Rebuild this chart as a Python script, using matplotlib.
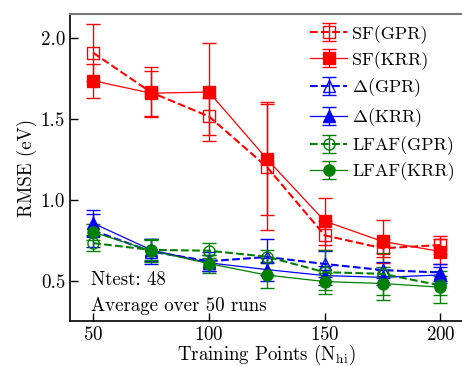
import matplotlib
matplotlib.use("Agg")
import matplotlib.pyplot as plt

plt.rcParams["font.family"] = ["cmr10", "DejaVu Serif"]
plt.rcParams["mathtext.fontset"] = "cm"
plt.rcParams["axes.unicode_minus"] = False
plt.rcParams["axes.formatter.use_mathtext"] = True

FS = 13.6
LEG_FS = 13

# Training set sizes
n_train = [50, 75, 100, 125, 150, 175, 200]

# RMSE (eV) and standard deviations over runs
sf_gpr = [1.91, 1.665, 1.516, 1.204, 0.78, 0.70, 0.72]
sf_gpr_err = [0.176, 0.155, 0.115, 0.39, 0.09, 0.055, 0.053]
sf_krr = [1.737, 1.66, 1.667, 1.253, 0.868, 0.742, 0.68]
sf_krr_err = [0.104, 0.14, 0.305, 0.35, 0.145, 0.134, 0.077]

delta_gpr = [0.81, 0.68, 0.62, 0.646, 0.603, 0.565, 0.55]
delta_gpr_err = [0.10, 0.08, 0.06, 0.11, 0.08, 0.05, 0.05]
delta_krr = [0.855, 0.69, 0.61, 0.568, 0.531, 0.52, 0.535]
delta_krr_err = [0.08, 0.07, 0.05, 0.07, 0.06, 0.045, 0.05]

lfaf_gpr = [0.732, 0.69, 0.685, 0.648, 0.552, 0.542, 0.47]
lfaf_gpr_err = [0.05, 0.06, 0.045, 0.04, 0.135, 0.13, 0.06]
lfaf_krr = [0.80, 0.685, 0.605, 0.534, 0.494, 0.482, 0.459]
lfaf_krr_err = [0.05, 0.07, 0.055, 0.08, 0.055, 0.10, 0.10]

fig = plt.figure(figsize=(4.62, 3.66), dpi=100)
ax = fig.add_axes([0.1515, 0.123, 0.852, 0.8387])

common = dict(capsize=5, elinewidth=1.0, capthick=1.0, markersize=8)

ax.errorbar(n_train, sf_gpr, yerr=sf_gpr_err, color="red", ls="--", lw=1.5,
            marker="s", mfc="none", mew=1.0, label="SF(GPR)", **common)
ax.errorbar(n_train, sf_krr, yerr=sf_krr_err, color="red", ls="-", lw=0.9,
            marker="s", label="SF(KRR)", **common)
ax.errorbar(n_train, delta_gpr, yerr=delta_gpr_err, color="blue", ls="--", lw=1.5,
            marker="^", mfc="none", mew=1.0, label=r"$\Delta$(GPR)", **common)
ax.errorbar(n_train, delta_krr, yerr=delta_krr_err, color="blue", ls="-", lw=0.9,
            marker="^", label=r"$\Delta$(KRR)", **common)
ax.errorbar(n_train, lfaf_gpr, yerr=lfaf_gpr_err, color="green", ls="--", lw=1.5,
            marker="o", mfc="none", mew=1.0, label="LFAF(GPR)", **common)
ax.errorbar(n_train, lfaf_krr, yerr=lfaf_krr_err, color="green", ls="-", lw=0.9,
            marker="o", label="LFAF(KRR)", **common)

ax.set_xlim(40, 210)
ax.set_ylim(0.25, 2.15)
ax.set_xticks([50, 100, 150, 200])
ax.set_yticks([0.5, 1.0, 1.5, 2.0])
ax.set_yticklabels(["0.5", "1.0", "1.5", "2.0"])
ax.tick_params(direction="in", length=6, width=1.0, labelsize=FS)

for side in ("left", "bottom"):
    ax.spines[side].set_linewidth(1.2)
ax.spines["top"].set_color("#777777")
ax.spines["top"].set_linewidth(1.5)

ax.set_xlabel(r"Training Points (N$_{\mathrm{hi}}$)", fontsize=FS, labelpad=-0.6)
ax.set_ylabel("RMSE (eV)", fontsize=FS, labelpad=3)

ax.text(0.053, 0.135, "Ntest: 48", transform=ax.transAxes, fontsize=FS, va="center")
ax.text(0.053, 0.05, "Average over 50 runs", transform=ax.transAxes, fontsize=FS, va="center")

ax.legend(loc="upper right", bbox_to_anchor=(1.005, 1.0), frameon=False, fontsize=LEG_FS,
          handlelength=2.0, labelspacing=0.4, handletextpad=0.3, borderaxespad=0.2)

fig.savefig("out.png", dpi=100)
